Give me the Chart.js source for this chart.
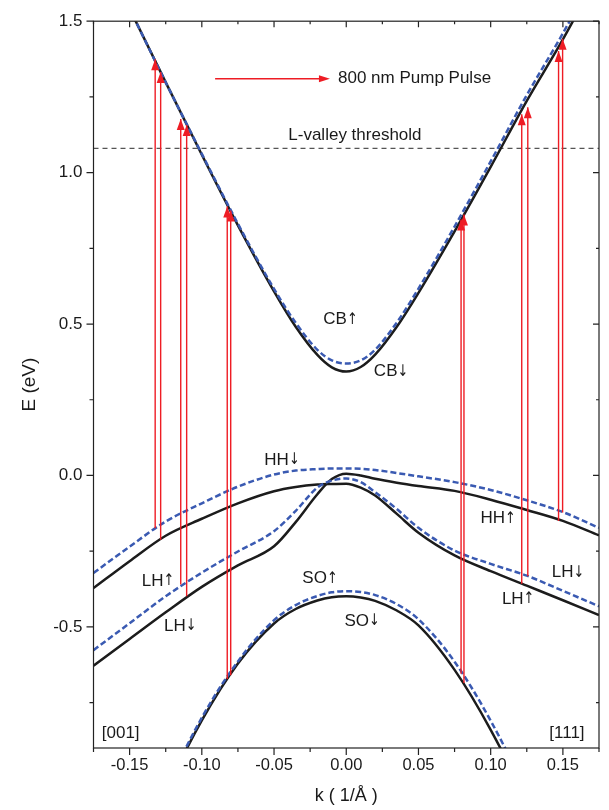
<!DOCTYPE html>
<html>
<head>
<meta charset="utf-8">
<script src="https://cdn.jsdelivr.net/npm/chart.js@4.4.1/dist/chart.umd.min.js"></script>
<style>
  html, body { margin: 0; padding: 0; background: #fff; }
  #wrap { width: 609px; height: 810px; }
</style>
</head>
<body>
<div id="wrap"><canvas id="bands" width="609" height="810"></canvas></div>
<script>
// wave vector grid, 1/Å ([001] to the left, [111] to the right)
const kGrid = [-0.175, -0.15, -0.125, -0.1, -0.075, -0.05, -0.035, -0.02, -0.01, 0,
               0.01, 0.02, 0.035, 0.05, 0.075, 0.1, 0.125, 0.15, 0.175];

// band energies in eV, solid = spin down, dashed = spin up
const cbDown = [1.786, 1.541, 1.298, 1.059, 0.826, 0.608, 0.491, 0.398, 0.357, 0.343,
                0.358, 0.399, 0.491, 0.603, 0.806, 1.019, 1.237, 1.44, 1.66];
const cbUp   = [1.786, 1.541, 1.298, 1.062, 0.831, 0.616, 0.504, 0.415, 0.380, 0.370,
                0.380, 0.415, 0.505, 0.617, 0.822, 1.037, 1.256, 1.46, 1.68];
const hhDown = [-0.372, -0.283, -0.199, -0.143, -0.092, -0.052, -0.038, -0.030, -0.028, -0.027,
                -0.040, -0.066, -0.127, -0.189, -0.264, -0.316, -0.364, -0.412, -0.461];
const lhDown = [-0.628, -0.540, -0.452, -0.368, -0.297, -0.234, -0.154, -0.062, -0.012, 0.006,
                0.000, -0.011, -0.024, -0.035, -0.051, -0.080, -0.114, -0.150, -0.198];
const hhUp   = [-0.322, -0.235, -0.152, -0.092, -0.037, 0.003, 0.016, 0.021, 0.023, 0.023,
                0.022, 0.018, 0.008, -0.003, -0.022, -0.048, -0.082, -0.121, -0.173];
const lhUp   = [-0.577, -0.488, -0.399, -0.321, -0.251, -0.184, -0.117, -0.040, -0.017, -0.010,
                -0.022, -0.055, -0.111, -0.173, -0.248, -0.292, -0.331, -0.381, -0.432];
const soDown = [-1.70, -1.34, -1.047, -0.809, -0.621, -0.489, -0.441, -0.413, -0.402, -0.399,
                -0.403, -0.414, -0.446, -0.495, -0.642, -0.84, -1.08, -1.37, -1.72];
const soUp   = [-1.70, -1.33, -1.04, -0.80, -0.614, -0.478, -0.428, -0.398, -0.386, -0.382,
                -0.385, -0.395, -0.425, -0.475, -0.615, -0.81, -1.05, -1.34, -1.70];

// 800 nm pump transitions: k, start energy, end energy
const pumpK    = [-0.1323, -0.1285, -0.1146, -0.1105, -0.0824, -0.0800, 0.0795, 0.0815, 0.1215, 0.1257, 0.1470, 0.1498];
const pumpFrom = [-0.174, -0.212, -0.360, -0.399, -0.672, -0.660, -0.655, -0.685, -0.358, -0.333, -0.150, -0.122];
const pumpTo   = [1.374, 1.332, 1.177, 1.157, 0.888, 0.875, 0.845, 0.862, 1.193, 1.216, 1.402, 1.442];

const lValley = 1.08;

const FONT = '"Liberation Sans", Arial, sans-serif';
const ARROW_FONT = '"DejaVu Sans", sans-serif';
const BLACK = '#1c1c1c';
const BLUE = '#3a5ab2';
const RED = '#ee1c24';

// text labels placed in data coordinates
const bandLabels = [
  ['CB\u2191', -0.004, 0.514],
  ['CB\u2193', 0.031, 0.343],
  ['HH\u2193', -0.0445, 0.051],
  ['LH\u2191', -0.1303, -0.349],
  ['LH\u2193', -0.115, -0.497],
  ['SO\u2191', -0.0182, -0.340],
  ['SO\u2193', 0.011, -0.481],
  ['HH\u2191', 0.1051, -0.143],
  ['LH\u2193', 0.1535, -0.320],
  ['LH\u2191', 0.119, -0.408],
  ['[001]', -0.1562, -0.852],
  ['[111]', 0.1528, -0.852],
  ['L-valley threshold', 0.006, 1.123]
];

function curve(vals) {
  return kGrid.map((k, i) => ({ x: k, y: vals[i] }));
}

function band(vals, dashed) {
  return {
    data: curve(vals),
    borderColor: dashed ? BLUE : BLACK,
    borderWidth: 2.5,
    borderDash: dashed ? [6, 3] : [],
    pointRadius: 0,
    cubicInterpolationMode: 'monotone',
    order: dashed ? 1 : 2
  };
}

const datasets = [
  band(cbDown, false), band(hhDown, false), band(lhDown, false), band(soDown, false),
  band(cbUp, true), band(hhUp, true), band(lhUp, true), band(soUp, true),
  {
    data: [{ x: -0.175, y: lValley }, { x: 0.175, y: lValley }],
    borderColor: '#555',
    borderWidth: 1.2,
    borderDash: [5, 4],
    pointRadius: 0,
    order: 3
  }
];

pumpK.forEach((k, i) => {
  datasets.push({
    data: [{ x: k, y: pumpFrom[i] }, { x: k, y: pumpTo[i] }],
    borderColor: RED,
    borderWidth: 1.4,
    pointRadius: 0,
    isPump: true,
    order: 0
  });
});

function isMajor(v, step) {
  return Math.abs(v / step - Math.round(v / step)) < 1e-6;
}

function arrowHead(ctx, x, y, dir, len, half) {
  // dir: 'up' or 'right', tip at (x, y)
  ctx.beginPath();
  if (dir === 'up') {
    ctx.moveTo(x, y);
    ctx.lineTo(x - half, y + len);
    ctx.lineTo(x + half, y + len);
  } else {
    ctx.moveTo(x, y);
    ctx.lineTo(x - len, y - half);
    ctx.lineTo(x - len, y + half);
  }
  ctx.closePath();
  ctx.fill();
}

// label text with the spin arrow set in a font that has a full-size arrow glyph
function drawLabel(ctx, text, cx, cy, size) {
  const last = text.slice(-1);
  const hasArrow = last === '\u2191' || last === '\u2193';
  const main = hasArrow ? text.slice(0, -1) : text;
  ctx.font = size + 'px ' + FONT;
  const w1 = ctx.measureText(main).width;
  let w2 = 0;
  if (hasArrow) {
    ctx.font = (size - 1) + 'px ' + ARROW_FONT;
    w2 = ctx.measureText(last).width * 0.8;
  }
  const x0 = cx - (w1 + w2) / 2;
  ctx.textAlign = 'left';
  ctx.font = size + 'px ' + FONT;
  ctx.fillText(main, x0, cy);
  if (hasArrow) {
    ctx.font = (size - 1) + 'px ' + ARROW_FONT;
    ctx.save();
    ctx.translate(x0 + w1, cy);
    ctx.scale(0.8, 1);
    ctx.fillText(last, 0, 0);
    ctx.restore();
  }
}

const extras = {
  id: 'extras',
  afterDatasetsDraw(chart) {
    const { ctx, scales: { x, y } } = chart;
    ctx.save();
    ctx.fillStyle = RED;
    chart.data.datasets.forEach(ds => {
      if (!ds.isPump) return;
      const tip = ds.data[1];
      arrowHead(ctx, x.getPixelForValue(tip.x), y.getPixelForValue(tip.y), 'up', 11, 4);
    });

    // pump pulse key
    const ly = y.getPixelForValue(1.31);
    const x0 = x.getPixelForValue(-0.0908);
    const x1 = x.getPixelForValue(-0.0113);
    ctx.strokeStyle = RED;
    ctx.lineWidth = 1.6;
    ctx.beginPath();
    ctx.moveTo(x0, ly);
    ctx.lineTo(x1 - 8, ly);
    ctx.stroke();
    arrowHead(ctx, x1, ly, 'right', 11, 3.5);

    ctx.fillStyle = '#1a1a1a';
    ctx.font = '17px ' + FONT;
    ctx.textAlign = 'left';
    ctx.textBaseline = 'middle';
    ctx.fillText('800 nm Pump Pulse', x.getPixelForValue(-0.0057), ly);

    bandLabels.forEach(([t, k, e]) => {
      drawLabel(ctx, t, x.getPixelForValue(k), y.getPixelForValue(e), 17);
    });
    ctx.restore();
  },
  afterDraw(chart) {
    const { ctx, chartArea: a, scales: { x, y } } = chart;
    ctx.save();
    ctx.strokeStyle = '#222';
    ctx.lineWidth = 1.2;
    ctx.strokeRect(a.left, a.top, a.right - a.left, a.bottom - a.top);
    ctx.beginPath();
    x.ticks.forEach(t => {
      const px = x.getPixelForValue(t.value);
      const major = isMajor(t.value, 0.05);
      ctx.moveTo(px, a.bottom); ctx.lineTo(px, a.bottom + (major ? 7 : 4));
      ctx.moveTo(px, a.top); ctx.lineTo(px, a.top + (major ? 6 : 3));
    });
    y.ticks.forEach(t => {
      if (!isMajor(t.value, 0.25)) return;
      const py = y.getPixelForValue(t.value);
      const major = isMajor(t.value, 0.5);
      ctx.moveTo(a.left, py); ctx.lineTo(a.left - (major ? 7 : 4), py);
      ctx.moveTo(a.right, py); ctx.lineTo(a.right - (major ? 6 : 3), py);
    });
    ctx.stroke();
    ctx.restore();
  }
};

Chart.defaults.font.family = FONT;
Chart.defaults.color = '#1a1a1a';

new Chart(document.getElementById('bands').getContext('2d'), {
  type: 'line',
  data: { datasets: datasets },
  options: {
    responsive: false,
    animation: false,
    events: [],
    layout: { padding: { top: 17, right: 10, left: 0, bottom: 0 } },
    plugins: { legend: { display: false }, tooltip: { enabled: false } },
    scales: {
      x: {
        type: 'linear',
        min: -0.175,
        max: 0.175,
        grid: { display: false, drawTicks: false },
        border: { display: false },
        ticks: {
          stepSize: 0.025,
          autoSkip: false,
          maxRotation: 0,
          padding: 8,
          font: { size: 16.5 },
          callback: v => {
            if (!isMajor(v, 0.05)) return '';
            return (Math.abs(v) < 1e-9 ? 0 : v).toFixed(2);
          }
        },
        title: { display: true, text: 'k ( 1/\u00c5 )', font: { size: 18 }, padding: { top: 0, bottom: 3 } },
        afterFit: s => { s.height = 62; }
      },
      y: {
        type: 'linear',
        min: -0.9,
        max: 1.5,
        grid: { display: false, drawTicks: false },
        border: { display: false },
        ticks: {
          stepSize: 0.25,
          autoSkip: false,
          padding: 11,
          font: { size: 17 },
          callback: v => {
            if (!isMajor(v, 0.5)) return '';
            return (Math.abs(v) < 1e-9 ? 0 : v).toFixed(1);
          }
        },
        title: { display: true, text: 'E (eV)', font: { size: 19 }, padding: { top: 18, bottom: 0 } },
        afterFit: s => { s.width = 93.5; }
      }
    }
  },
  plugins: [extras]
});
</script>
</body>
</html>
